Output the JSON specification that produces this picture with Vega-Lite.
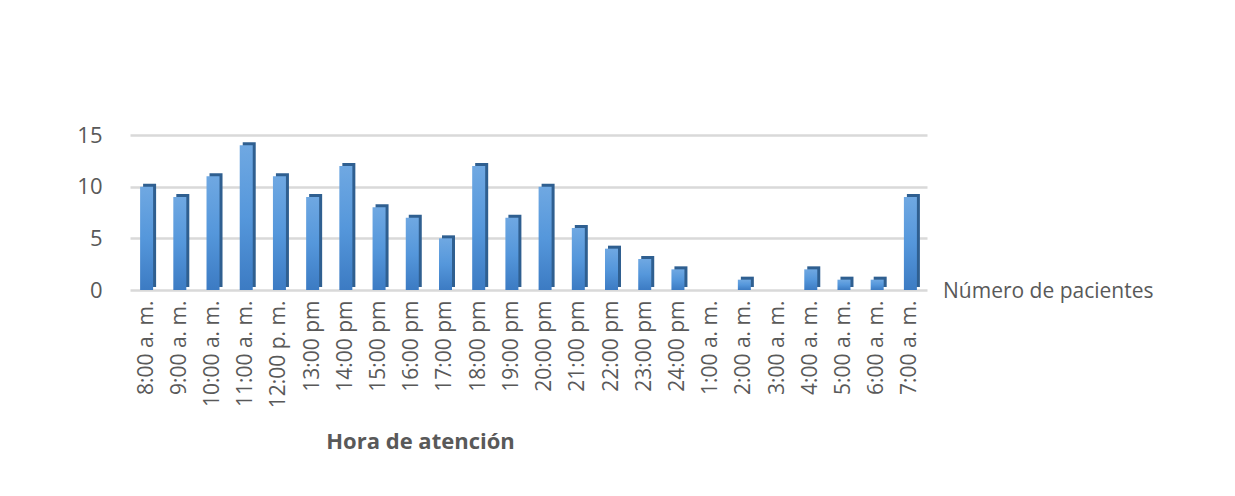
{
  "$schema": "https://vega.github.io/schema/vega-lite/v6.json",
  "autosize": {"type": "none"},
  "width": 797,
  "height": 155,
  "padding": {"left": 130, "top": 135, "right": 308, "bottom": 206},
  "background": "white",
  "config": {
    "font": "Open Sans",
    "view": {"stroke": null},
    "axis": {"labelColor": "#595959", "titleColor": "#595959"}
  },
  "data": {
    "values": [
      {"hora": "8:00 a. m.", "pacientes": 10, "serie": "Número de pacientes"},
      {"hora": "9:00 a. m.", "pacientes": 9, "serie": "Número de pacientes"},
      {"hora": "10:00 a. m.", "pacientes": 11, "serie": "Número de pacientes"},
      {"hora": "11:00 a. m.", "pacientes": 14, "serie": "Número de pacientes"},
      {"hora": "12:00 p. m.", "pacientes": 11, "serie": "Número de pacientes"},
      {"hora": "13:00 pm", "pacientes": 9, "serie": "Número de pacientes"},
      {"hora": "14:00 pm", "pacientes": 12, "serie": "Número de pacientes"},
      {"hora": "15:00 pm", "pacientes": 8, "serie": "Número de pacientes"},
      {"hora": "16:00 pm", "pacientes": 7, "serie": "Número de pacientes"},
      {"hora": "17:00 pm", "pacientes": 5, "serie": "Número de pacientes"},
      {"hora": "18:00 pm", "pacientes": 12, "serie": "Número de pacientes"},
      {"hora": "19:00 pm", "pacientes": 7, "serie": "Número de pacientes"},
      {"hora": "20:00 pm", "pacientes": 10, "serie": "Número de pacientes"},
      {"hora": "21:00 pm", "pacientes": 6, "serie": "Número de pacientes"},
      {"hora": "22:00 pm", "pacientes": 4, "serie": "Número de pacientes"},
      {"hora": "23:00 pm", "pacientes": 3, "serie": "Número de pacientes"},
      {"hora": "24:00 pm", "pacientes": 2, "serie": "Número de pacientes"},
      {"hora": "1:00 a. m.", "pacientes": 0, "serie": "Número de pacientes"},
      {"hora": "2:00 a. m.", "pacientes": 1, "serie": "Número de pacientes"},
      {"hora": "3:00 a. m.", "pacientes": 0, "serie": "Número de pacientes"},
      {"hora": "4:00 a. m.", "pacientes": 2, "serie": "Número de pacientes"},
      {"hora": "5:00 a. m.", "pacientes": 1, "serie": "Número de pacientes"},
      {"hora": "6:00 a. m.", "pacientes": 1, "serie": "Número de pacientes"},
      {"hora": "7:00 a. m.", "pacientes": 9, "serie": "Número de pacientes"}
    ]
  },
  "encoding": {
    "x": {
      "field": "hora", "type": "nominal", "sort": null,
      "scale": {"paddingInner": 0.6, "paddingOuter": 0.3},
      "axis": {
        "title": "Hora de atención", "titleFontSize": 22, "titleFontWeight": "bold",
        "titleX": 290, "titleY": 158, "titleBaseline": "alphabetic", "titleAlign": "center", "titleAnchor": null,
        "labelAngle": -90, "labelFontSize": 21, "labelPadding": 10, "labelAlign": "right", "labelBaseline": "middle",
        "ticks": false, "domain": false
      }
    },
    "y": {
      "field": "pacientes", "type": "quantitative",
      "scale": {"domain": [0, 15], "nice": false},
      "axis": {
        "title": null, "values": [0, 5, 10, 15], "labelFontSize": 22, "labelPadding": 28,
        "ticks": false, "domain": false, "grid": true, "gridColor": "#D9D9D9", "gridWidth": 2.5
      }
    }
  },
  "layer": [
    {
      "mark": {"type": "bar", "width": 13, "xOffset": 3, "yOffset": -3, "color": "#2F5F90"},
      "encoding": {
        "color": {
          "field": "serie", "type": "nominal",
          "scale": {"range": ["#2F5F90"]},
          "legend": {
            "title": null, "orient": "none", "legendX": 792, "legendY": 146,
            "symbolOpacity": 0, "symbolSize": 0, "symbolStrokeWidth": 0,
            "labelOffset": 0, "labelFontSize": 21, "labelColor": "#595959", "labelLimit": 400
          }
        }
      }
    },
    {
      "mark": {
        "type": "bar", "width": 13,
        "color": {
          "gradient": "linear", "x1": 0, "y1": 0, "x2": 0, "y2": 1,
          "stops": [{"offset": 0, "color": "#6FA8E2"}, {"offset": 0.5, "color": "#5597DB"}, {"offset": 1, "color": "#3C7BC3"}]
        }
      }
    }
  ]
}
